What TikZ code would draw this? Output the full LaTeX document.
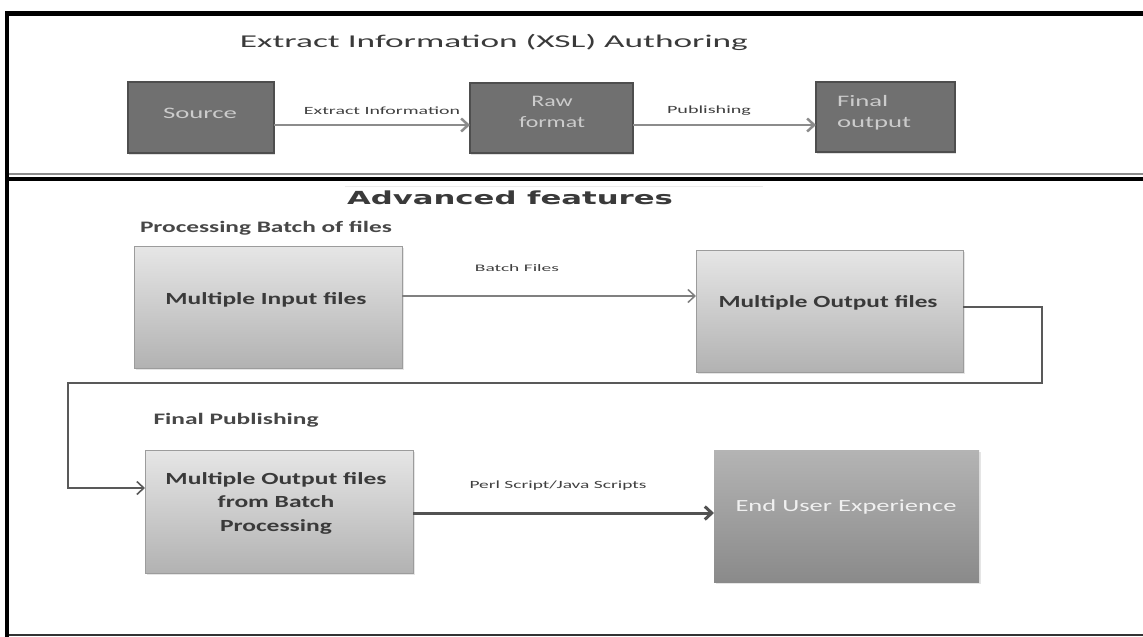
\documentclass[tikz,border=0pt]{standalone}
\usepackage{fontspec}
\usepackage{graphicx}
\setmainfont{Carlito}
\newfontfamily\widefont{DejaVu Sans}
\usetikzlibrary{arrows.meta,shadows}

% stretch a piece of text to a given width (in pt), keeping its height
\newcommand{\fitto}[2]{\resizebox{#1pt}{\height}{#2}}

\definecolor{darkbox}{HTML}{707070}
\definecolor{darkedge}{HTML}{4E4E4E}
\definecolor{lighttop}{HTML}{E6E6E6}
\definecolor{lightbot}{HTML}{B2B2B2}
\definecolor{lightedge}{HTML}{9C9C9C}
\definecolor{endtop}{HTML}{B4B4B4}
\definecolor{endbot}{HTML}{8A8A8A}
\definecolor{inktext}{HTML}{3A3A3A}

\tikzset{
  darkstep/.style={draw=darkedge, line width=1.5pt, fill=darkbox, inner sep=0pt, outer sep=0pt,
    drop shadow={shadow xshift=1pt, shadow yshift=-1.5pt, opacity=0.25}},
  lightstep/.style={draw=lightedge, line width=1pt, top color=lighttop, bottom color=lightbot,
    inner sep=0pt, outer sep=0pt,
    drop shadow={shadow xshift=1.5pt, shadow yshift=-1.5pt, opacity=0.2}},
  endstep/.style={draw=none, top color=endtop, bottom color=endbot, inner sep=0pt, outer sep=0pt,
    drop shadow={shadow xshift=1.5pt, shadow yshift=-1.5pt, opacity=0.2}},
  txt/.style={inner sep=0pt, outer sep=0pt, text=inktext},
  barb/.tip={Straight Barb[length=7pt, width=13pt]},
  toparrow/.style={draw=black!45, line width=2.5pt, -barb},
  thinarrow/.style={draw=black!50, line width=1.5pt, -barb},
  thickarrow/.style={draw=black!68, line width=3pt, -barb},
  loopline/.style={draw=black!65, line width=1.6pt, -barb},
}

\begin{document}
\begin{tikzpicture}[x=1pt, y=-1pt]
\useasboundingbox (0,0) rectangle (1143,637);
\fill[white] (0,0) rectangle (1143,637);

% panel frames
\draw[black, line width=5pt] (5,13) -- (1143,13);
\draw[black!45, line width=1.5pt] (7,174) -- (1143,174);
\draw[black, line width=4pt] (7,179) -- (1143,179);
\draw[black!80, line width=2pt] (7,635) -- (1143,635);
\draw[black, line width=4.5pt] (7,11) -- (7,637);
\draw[black!8, line width=1pt] (345,186) -- (763,186);

% ---------- upper panel ----------
\node[txt, font=\fontsize{18}{22}\selectfont] (t1) at (494,42)
  {\fitto{508}{Extract Information (XSL) Authoring}};

\node[darkstep, minimum width=146pt, minimum height=71pt] (src) at (201,117.5) {};
\node[darkstep, minimum width=163pt, minimum height=70pt] (raw) at (551.5,118) {};
\node[darkstep, minimum width=139pt, minimum height=70pt] (fin) at (885.5,117) {};

\node[txt, text=black!20, font=\fontsize{16}{20}\selectfont] (srct) at (200,113)
  {\fitto{74}{Source}};
\node[txt, text=black!20, font=\fontsize{16}{20}\selectfont] (rawt) at (552,113)
  {\fitto{66}{\begin{tabular}{@{}c@{}}Raw\\format\end{tabular}}};
\node[txt, text=black!20, font=\fontsize{16}{20}\selectfont, anchor=west] (fint) at (837,113)
  {\fitto{74}{\begin{tabular}{@{}l@{}}Final\\output\end{tabular}}};

\coordinate (a1) at ([yshift=-7.5pt]src.east);
\coordinate (a2) at ([yshift=-7pt]raw.east);
\draw[toparrow] (a1) -- (a1 -| raw.west);
\draw[toparrow] (a2) -- (a2 -| fin.west);
\node[txt, text=black!75, font=\fontsize{11}{13}\selectfont] (l1) at (382,111)
  {\fitto{156}{Extract Information}};
\node[txt, text=black!75, font=\fontsize{11}{13}\selectfont] (l2) at (709,111)
  {\fitto{84}{Publishing}};

% ---------- lower panel ----------
\node[txt, font=\widefont\bfseries\fontsize{18}{22}\selectfont] (t2) at (510,198)
  {\fitto{326}{Advanced features}};
\node[txt, text=black!72, font=\bfseries\fontsize{16}{20}\selectfont] (t3) at (266,228)
  {\fitto{252}{Processing Batch of files}};
\node[txt, text=black!72, font=\bfseries\fontsize{16}{20}\selectfont] (t4) at (236,420)
  {\fitto{165}{Final Publishing}};

\node[lightstep, minimum width=268pt, minimum height=122pt] (mIn) at (268,307) {};
\node[lightstep, minimum width=267pt, minimum height=122pt] (mOut) at (829.5,311) {};
\node[lightstep, minimum width=268pt, minimum height=123pt] (mBatch) at (279,511.5) {};
\node[endstep, minimum width=265pt, minimum height=132pt] (endU) at (846.5,516) {};

\node[txt, font=\bfseries\fontsize{17}{20}\selectfont] (mInt) at (266,300)
  {\fitto{201}{Multiple Input files}};
\node[txt, font=\bfseries\fontsize{17}{20}\selectfont] (mOutt) at (828,303)
  {\fitto{219}{Multiple Output files}};
\node[txt, font=\bfseries\fontsize{17}{23.5}\selectfont] (mBatcht) at (276,503)
  {\fitto{221}{\begin{tabular}{@{}c@{}}Multiple Output files\\from Batch\\Processing\end{tabular}}};
\node[txt, text=black!6, font=\fontsize{17}{20}\selectfont] (endUt) at (846,507)
  {\fitto{221}{End User Experience}};

% batch files link
\coordinate (b1) at ([yshift=11pt]mIn.east);
\draw[thinarrow] (b1) -- (b1 -| mOut.west);
\node[txt, text=black!75, font=\fontsize{10}{12}\selectfont] (l3) at (517,268)
  {\fitto{84}{Batch Files}};

% return path from the output files down to the final publishing step
\coordinate (o1) at ([yshift=4pt]mOut.east);
\coordinate (k1) at (1042,383);
\coordinate (k2) at (68,383);
\coordinate (e4) at ([yshift=23.5pt]mBatch.west);
\draw[loopline] (o1) -| (k1) -- (k2) |- (e4);

% scripts link
\coordinate (p1) at ([yshift=-1.5pt]mBatch.east);
\draw[thickarrow] (p1) -- (p1 -| endU.west);
\node[txt, text=black!75, font=\fontsize{11}{13}\selectfont] (l4) at (558,486)
  {\fitto{177}{Perl Script/Java Scripts}};
\end{tikzpicture}
\end{document}
